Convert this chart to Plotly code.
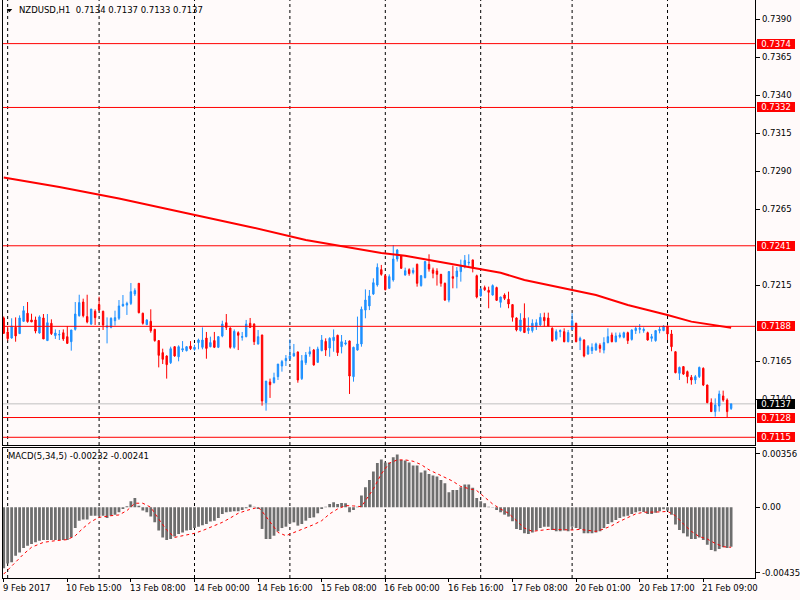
import plotly.graph_objects as go

# ---------------- data ----------------
bar_index = list(range(184))

opens = [0.71935, 0.71843, 0.71803, 0.71874, 0.71832, 0.71913, 0.71966, 0.71922, 0.71922, 0.71836,
         0.71935, 0.71786, 0.71900, 0.71819, 0.71823, 0.71838, 0.71812, 0.71779, 0.71860, 0.71950,
         0.72040, 0.71944, 0.71895, 0.71979, 0.72023, 0.71979, 0.71874, 0.71874, 0.71917, 0.71933,
         0.72014, 0.72020, 0.72031, 0.72093, 0.72163, 0.71966, 0.71891, 0.71913, 0.71860, 0.71786,
         0.71707, 0.71685, 0.71641, 0.71746, 0.71680, 0.71724, 0.71720, 0.71750, 0.71729, 0.71773,
         0.71742, 0.71803, 0.71746, 0.71786, 0.71742, 0.71816, 0.71904, 0.71869, 0.71742, 0.71838,
         0.71808, 0.71812, 0.71900, 0.71895, 0.71764, 0.71823, 0.71378, 0.71514, 0.71509, 0.71549,
         0.71619, 0.71654, 0.71667, 0.71685, 0.71711, 0.71536, 0.71641, 0.71698, 0.71724, 0.71643,
         0.71720, 0.71781, 0.71737, 0.71786, 0.71821, 0.71746, 0.71764, 0.71784, 0.71549, 0.71724,
         0.71764, 0.71987, 0.72014, 0.72093, 0.72152, 0.72253, 0.72213, 0.72130, 0.72185, 0.72323,
         0.72345, 0.72218, 0.72253, 0.72235, 0.72288, 0.72148, 0.72200, 0.72288, 0.72251, 0.72244,
         0.72222, 0.72163, 0.72053, 0.72207, 0.72207, 0.72240, 0.72273, 0.72297, 0.72317, 0.72213,
         0.72080, 0.72135, 0.72117, 0.72086, 0.72135, 0.72038, 0.72086, 0.72058, 0.72023, 0.71935,
         0.71852, 0.71933, 0.71852, 0.71852, 0.71878, 0.71889, 0.71939, 0.71935, 0.71867, 0.71795,
         0.71845, 0.71845, 0.71779, 0.71860, 0.71900, 0.71786, 0.71790, 0.71698, 0.71720, 0.71724,
         0.71755, 0.71724, 0.71773, 0.71823, 0.71779, 0.71812, 0.71808, 0.71838, 0.71794, 0.71852,
         0.71860, 0.71852, 0.71838, 0.71801, 0.71786, 0.71852, 0.71852, 0.71882, 0.71830, 0.71713,
         0.71571, 0.71615, 0.71582, 0.71545, 0.71527, 0.71549, 0.71604, 0.71494, 0.71378, 0.71319,
         0.71356, 0.71422, 0.71395, 0.71340]

highs = [0.71945, 0.71878, 0.71933, 0.71939, 0.71952, 0.72014, 0.72040, 0.71963, 0.71944, 0.71952,
         0.71961, 0.71961, 0.71926, 0.71860, 0.71856, 0.71860, 0.71882, 0.71856, 0.72040, 0.72088,
         0.72062, 0.72088, 0.71994, 0.71992, 0.72075, 0.71983, 0.71939, 0.71939, 0.71983, 0.72053,
         0.72086, 0.72042, 0.72165, 0.72130, 0.72165, 0.71970, 0.71926, 0.71992, 0.71864, 0.71790,
         0.71733, 0.71689, 0.71746, 0.71750, 0.71755, 0.71783, 0.71750, 0.71783, 0.71759, 0.71799,
         0.71873, 0.71843, 0.71812, 0.71843, 0.71816, 0.71917, 0.71961, 0.71873, 0.71860, 0.71847,
         0.71843, 0.71922, 0.71935, 0.71900, 0.71856, 0.71825, 0.71520, 0.71536, 0.71575, 0.71632,
         0.71659, 0.71691, 0.71794, 0.71764, 0.71715, 0.71691, 0.71711, 0.71746, 0.71731, 0.71746,
         0.71823, 0.71801, 0.71808, 0.71860, 0.71825, 0.71823, 0.71790, 0.71786, 0.71746, 0.71944,
         0.72010, 0.72123, 0.72119, 0.72196, 0.72294, 0.72284, 0.72222, 0.72222, 0.72415, 0.72389,
         0.72349, 0.72266, 0.72262, 0.72266, 0.72293, 0.72218, 0.72310, 0.72354, 0.72266, 0.72262,
         0.72225, 0.72168, 0.72244, 0.72279, 0.72270, 0.72319, 0.72349, 0.72354, 0.72319, 0.72220,
         0.72130, 0.72148, 0.72141, 0.72156, 0.72141, 0.72075, 0.72097, 0.72108, 0.72027, 0.71939,
         0.71966, 0.72031, 0.71939, 0.71926, 0.71926, 0.71966, 0.71970, 0.71970, 0.71874, 0.71860,
         0.71860, 0.71867, 0.71856, 0.71966, 0.71904, 0.71812, 0.71795, 0.71757, 0.71768, 0.71773,
         0.71768, 0.71808, 0.71867, 0.71839, 0.71839, 0.71839, 0.71845, 0.71845, 0.71860, 0.71878,
         0.71895, 0.71873, 0.71845, 0.71830, 0.71856, 0.71878, 0.71886, 0.71886, 0.71856, 0.71716,
         0.71615, 0.71619, 0.71589, 0.71560, 0.71560, 0.71615, 0.71610, 0.71496, 0.71406, 0.71406,
         0.71457, 0.71457, 0.71406, 0.71370]

lows = [0.71832, 0.71786, 0.71799, 0.71779, 0.71830, 0.71911, 0.71904, 0.71909, 0.71834, 0.71832,
        0.71797, 0.71786, 0.71823, 0.71797, 0.71790, 0.71784, 0.71764, 0.71720, 0.71852, 0.71944,
        0.71939, 0.71900, 0.71889, 0.71889, 0.71983, 0.71856, 0.71768, 0.71867, 0.71885, 0.71922,
        0.72010, 0.71955, 0.72020, 0.72080, 0.71965, 0.71891, 0.71889, 0.71838, 0.71779, 0.71610,
        0.71632, 0.71536, 0.71632, 0.71680, 0.71650, 0.71711, 0.71715, 0.71724, 0.71720, 0.71729,
        0.71729, 0.71667, 0.71742, 0.71737, 0.71737, 0.71808, 0.71856, 0.71733, 0.71733, 0.71724,
        0.71786, 0.71808, 0.71873, 0.71757, 0.71760, 0.71358, 0.71325, 0.71409, 0.71505, 0.71527,
        0.71582, 0.71619, 0.71663, 0.71680, 0.71509, 0.71527, 0.71626, 0.71680, 0.71621, 0.71641,
        0.71716, 0.71685, 0.71680, 0.71713, 0.71685, 0.71702, 0.71755, 0.71435, 0.71516, 0.71720,
        0.71746, 0.71933, 0.71987, 0.72086, 0.72141, 0.72213, 0.72117, 0.72126, 0.72174, 0.72306,
        0.72257, 0.72213, 0.72213, 0.72222, 0.72141, 0.72141, 0.72196, 0.72240, 0.72196, 0.72148,
        0.72141, 0.72047, 0.72038, 0.72130, 0.72130, 0.72174, 0.72262, 0.72279, 0.72235, 0.72064,
        0.72075, 0.72113, 0.71999, 0.72082, 0.72047, 0.72003, 0.72053, 0.71999, 0.71911, 0.71847,
        0.71845, 0.71839, 0.71830, 0.71839, 0.71856, 0.71882, 0.71878, 0.71878, 0.71779, 0.71786,
        0.71808, 0.71775, 0.71775, 0.71856, 0.71775, 0.71724, 0.71676, 0.71693, 0.71698, 0.71720,
        0.71707, 0.71702, 0.71768, 0.71775, 0.71775, 0.71801, 0.71801, 0.71764, 0.71786, 0.71830,
        0.71834, 0.71838, 0.71786, 0.71779, 0.71779, 0.71834, 0.71848, 0.71790, 0.71716, 0.71571,
        0.71527, 0.71560, 0.71505, 0.71496, 0.71501, 0.71540, 0.71487, 0.71374, 0.71317, 0.71286,
        0.71319, 0.71384, 0.71281, 0.71330]

closes = [0.71834, 0.71799, 0.71882, 0.71817, 0.71935, 0.71983, 0.71911, 0.71909, 0.71849, 0.71942,
          0.71797, 0.71904, 0.71832, 0.71836, 0.71826, 0.71797, 0.71768, 0.71856, 0.71961, 0.72036,
          0.71950, 0.71909, 0.71994, 0.71937, 0.71988, 0.71889, 0.71882, 0.71933, 0.71937, 0.72014,
          0.72025, 0.72031, 0.72108, 0.72115, 0.71970, 0.71900, 0.71922, 0.71851, 0.71786, 0.71689,
          0.71663, 0.71628, 0.71733, 0.71685, 0.71746, 0.71733, 0.71746, 0.71733, 0.71742, 0.71790,
          0.71790, 0.71735, 0.71773, 0.71742, 0.71812, 0.71895, 0.71873, 0.71742, 0.71847, 0.71821,
          0.71812, 0.71895, 0.71873, 0.71779, 0.71812, 0.71389, 0.71520, 0.71496, 0.71542, 0.71632,
          0.71648, 0.71669, 0.71685, 0.71702, 0.71527, 0.71654, 0.71691, 0.71713, 0.71626, 0.71731,
          0.71790, 0.71724, 0.71801, 0.71808, 0.71707, 0.71779, 0.71771, 0.71553, 0.71742, 0.71764,
          0.71992, 0.72053, 0.72080, 0.72167, 0.72268, 0.72222, 0.72121, 0.72207, 0.72323, 0.72382,
          0.72262, 0.72246, 0.72227, 0.72248, 0.72163, 0.72213, 0.72306, 0.72257, 0.72229, 0.72222,
          0.72163, 0.72053, 0.72240, 0.72196, 0.72244, 0.72279, 0.72314, 0.72301, 0.72262, 0.72073,
          0.72126, 0.72121, 0.72104, 0.72148, 0.72051, 0.72073, 0.72064, 0.72027, 0.71939, 0.71856,
          0.71922, 0.71839, 0.71867, 0.71900, 0.71904, 0.71939, 0.71917, 0.71882, 0.71784, 0.71845,
          0.71852, 0.71779, 0.71839, 0.71917, 0.71779, 0.71801, 0.71685, 0.71746, 0.71742, 0.71764,
          0.71735, 0.71773, 0.71812, 0.71779, 0.71817, 0.71823, 0.71838, 0.71786, 0.71856, 0.71867,
          0.71867, 0.71860, 0.71790, 0.71812, 0.71852, 0.71860, 0.71882, 0.71830, 0.71746, 0.71575,
          0.71610, 0.71566, 0.71549, 0.71527, 0.71549, 0.71610, 0.71494, 0.71378, 0.71319, 0.71363,
          0.71435, 0.71395, 0.71319, 0.71370]

ma_index = [0, 14, 29, 49, 62, 76, 83, 89, 95, 101, 110, 118, 125, 131, 137, 143, 149, 157, 162, 167, 173, 178, 183]
ma_values = [0.72859, 0.72797, 0.72721, 0.72610, 0.72534, 0.72448, 0.72415, 0.72387, 0.72362, 0.72345,
             0.72301, 0.72266, 0.72232, 0.72185, 0.72152, 0.72119, 0.72086, 0.72020, 0.71988, 0.71955,
             0.71911, 0.71889, 0.71871]

# MACD(5,34,5) histogram, one value per bar (x 1e-5)
macd_e5 = [-406, -373, -366, -322, -300, -271, -255, -244, -233, -222,
           -218, -218, -218, -218, -218, -218, -218, -200, -138, -89,
           -82, -82, -56, -56, -56, -56, -71, -56, -49, -33,
           -11, 7, 40, 62, 11, -22, -33, -62, -100, -155,
           -200, -218, -211, -195, -178, -167, -155, -151, -138, -129,
           -120, -111, -95, -89, -71, -44, -33, -29, -27, -27,
           -18, -7, 18, 4, -11, -144, -211, -211, -189, -160,
           -138, -129, -107, -100, -122, -111, -89, -71, -67, -40,
           -11, 4, 22, 33, 22, 29, 27, -33, -18, 4,
           78, 133, 182, 238, 295, 317, 297, 297, 333, 351,
           315, 311, 297, 278, 278, 231, 244, 222, 211, 204,
           182, 160, 100, 115, 115, 133, 151, 151, 129, 62,
           40, 27, 4, -2, -18, -33, -49, -62, -93, -144,
           -151, -173, -178, -167, -155, -138, -129, -129, -151, -160,
           -160, -155, -160, -129, -138, -144, -173, -173, -173, -167,
           -160, -138, -111, -100, -84, -71, -62, -56, -44, -33,
           -27, -31, -44, -44, -36, -27, -13, -22, -49, -115,
           -151, -173, -195, -211, -211, -200, -218, -249, -284, -293,
           -278, -266, -271, -262]

# signal line, read at these bars (x 1e-5)
signal_index = [0, 2, 5, 7, 10, 13, 16, 18, 20, 22, 24, 27, 29, 31, 33, 35, 37, 39, 41, 43, 45, 48, 50,
                52, 55, 57, 59, 61, 63, 64, 65, 67, 69, 71, 73, 76, 78, 80, 82, 84, 86, 88, 90, 91,
                93, 95, 97, 99, 101, 103, 105, 107, 109, 111, 113, 115, 117, 119, 121, 123, 125, 127,
                129, 131, 133, 135, 137, 139, 141, 143, 145, 147, 149, 151, 153, 155, 157, 159, 161,
                163, 165, 167, 169, 171, 173, 175, 177, 179, 181, 183]
signal_e5 = [-444, -389, -311, -266, -233, -222, -215, -189, -138, -95, -67, -56, -51, -22, 27, 27, 0,
             -78, -151, -200, -189, -173, -155, -133, -100, -71, -40, -22, -4, 0, -27, -100, -167,
             -189, -169, -138, -115, -89, -44, -11, 11, 9, 4, 44, 122, 222, 293, 315, 315, 306, 284,
             249, 222, 200, 173, 138, 122, 111, 67, 22, -11, -40, -89, -138, -160, -155, -147, -147,
             -151, -151, -147, -155, -160, -144, -122, -93, -67, -44, -33, -33, -31, -27, -56, -111,
             -160, -195, -211, -240, -262, -266]

hline_levels = [0.7374, 0.7332, 0.7241, 0.7188, 0.7128, 0.7115]
bid_price = 0.7137
price_ticks = [0.7390, 0.7365, 0.7340, 0.7315, 0.7290, 0.7265, 0.7215, 0.7165, 0.7140]
macd_ticks = [0.00356, 0.0, -0.00435]
macd_tick_text = ["0.00356", "0.00", "-0.00435"]
grid_index = [1, 24, 48, 72, 96, 120, 143, 167]
time_index = [0, 16, 32, 48, 64, 80, 96, 112, 128, 144, 160, 176]
time_labels = ["9 Feb 2017", "10 Feb 15:00", "13 Feb 08:00", "14 Feb 00:00", "14 Feb 16:00",
               "15 Feb 08:00", "16 Feb 00:00", "16 Feb 16:00", "17 Feb 08:00", "20 Feb 01:00",
               "20 Feb 17:00", "21 Feb 09:00"]
title_text = "NZDUSD,H1  0.7134 0.7137 0.7133 0.7137"
macd_title = "MACD(5,34,5) -0.00232 -0.00241"

# ---------------- styling ----------------
W, H = 800, 600
BG = "#FFFAFA"
FONT = "DejaVu Sans"
FS = 8.5
X_LEFT, X_RIGHT = 3, 760          # plot area in pixels
MAIN_TOP, MAIN_BOT = 0, 445
MACD_TOP, MACD_BOT = 448, 578
xr = [-0.18, 189.07]

macd = [v * 1e-5 for v in macd_e5]
signal = [v * 1e-5 for v in signal_e5]

fig = go.Figure()
fig.add_trace(go.Candlestick(
    x=bar_index, open=opens, high=highs, low=lows, close=closes,
    xaxis="x", yaxis="y", whiskerwidth=0, hoverinfo="skip",
    increasing=dict(line=dict(color="#1E90FF", width=1), fillcolor="#1E90FF"),
    decreasing=dict(line=dict(color="#FF0000", width=1), fillcolor="#FF0000"),
))
fig.add_trace(go.Scatter(x=ma_index, y=ma_values, mode="lines", xaxis="x", yaxis="y",
                         line=dict(color="#FF0000", width=2), hoverinfo="skip"))
fig.add_trace(go.Bar(x=bar_index, y=macd, xaxis="x2", yaxis="y2", width=0.7,
                     marker=dict(color="#6E6E6E", line=dict(width=0)), hoverinfo="skip"))
fig.add_trace(go.Scatter(x=signal_index, y=signal, mode="lines", xaxis="x2", yaxis="y2",
                         line=dict(color="#FF0000", width=1, dash="dot"), hoverinfo="skip"))

shapes = []
for p in hline_levels:
    shapes.append(dict(type="line", xref="x domain", x0=0, x1=1, yref="y", y0=p, y1=p,
                       line=dict(color="#FF0000", width=1), layer="above"))
shapes.append(dict(type="line", xref="x domain", x0=0, x1=1, yref="y", y0=bid_price, y1=bid_price,
                   line=dict(color="#C0C0C0", width=1), layer="below"))
for k in grid_index:
    for yr in ("y domain", "y2 domain"):
        xa = "x" if yr == "y domain" else "x2"
        shapes.append(dict(type="line", xref=xa, x0=k, x1=k, yref=yr, y0=0, y1=1,
                           line=dict(color="#000000", width=1, dash="3px,3px"), layer="below"))
# small drop-down triangle before the title
tri = [(6.7, 9.0), (12.3, 9.0), (9.5, 12.3)]
path = "M " + " L ".join(f"{x / W},{1 - y / H}" for x, y in tri) + " Z"
shapes.append(dict(type="path", xref="paper", yref="paper", path=path,
                   fillcolor="#000000", line=dict(color="#000000", width=0)))

ann = []
ann.append(dict(text=title_text, xref="paper", yref="paper", x=17 / W, y=1 - 10.3 / H,
                xanchor="left", yanchor="middle", showarrow=False,
                font=dict(family=FONT, size=FS, color="#000000")))
ann.append(dict(text=macd_title, xref="paper", yref="paper", x=6 / W, y=1 - 456.3 / H,
                xanchor="left", yanchor="middle", showarrow=False,
                font=dict(family=FONT, size=FS, color="#000000")))
for k, t in zip(time_index, time_labels):
    ann.append(dict(text=t, xref="x2", yref="paper", x=k, y=1 - 587.7 / H, xshift=-1,
                    xanchor="left", yanchor="middle", showarrow=False, borderpad=0, borderwidth=0,
                    font=dict(family=FONT, size=FS, color="#000000")))
for p in hline_levels + [bid_price]:
    ann.append(dict(text=f"{p:.4f}", xref="paper", yref="y", x=762 / W, y=p,
                    xanchor="left", yanchor="middle", showarrow=False,
                    width=36, height=8, borderpad=0, borderwidth=1,
                    bgcolor="#000000" if p == bid_price else "#FF0000",
                    bordercolor="#000000" if p == bid_price else "#FF0000",
                    font=dict(family=FONT, size=FS, color="#FFFFFF")))

axis_font = dict(family=FONT, size=FS, color="#000000")
fig.update_layout(
    width=W, height=H, margin=dict(l=0, r=0, t=0, b=0),
    paper_bgcolor=BG, plot_bgcolor=BG, showlegend=False,
    boxgap=0.5, bargap=0.3,
    xaxis=dict(domain=[X_LEFT / W, X_RIGHT / W], range=xr, anchor="y",
               showline=True, mirror=False, linecolor="#000000", linewidth=1,
               showgrid=False, zeroline=False, showticklabels=False, ticks="",
               rangeslider=dict(visible=False), fixedrange=True),
    yaxis=dict(domain=[1 - MAIN_BOT / H, 1 - MAIN_TOP / H], range=[0.710993, 0.740270],
               anchor="x", side="right", showline=True, mirror=True, linecolor="#000000",
               linewidth=1, showgrid=False, zeroline=False, ticks="outside", ticklen=4,
               tickcolor="#000000", tickvals=price_ticks,
               ticktext=[f"{v:.4f}" for v in price_ticks], tickfont=axis_font),
    xaxis2=dict(domain=[X_LEFT / W, X_RIGHT / W], range=xr, anchor="y2",
                showline=True, mirror=True, linecolor="#000000", linewidth=1,
                showgrid=False, zeroline=False, showticklabels=False, ticks="outside",
                ticklen=3, tickcolor="#000000", tickvals=time_index),
    yaxis2=dict(domain=[1 - MACD_BOT / H, 1 - MACD_TOP / H], range=[-0.00470, 0.00394],
                anchor="x2", side="right", showline=True, mirror=True, linecolor="#000000",
                linewidth=1, showgrid=False, zeroline=False, ticks="outside", ticklen=4,
                tickcolor="#000000", tickvals=macd_ticks, ticktext=macd_tick_text,
                tickfont=axis_font),
    shapes=shapes, annotations=ann,
)

fig.write_html("out.html", config={"displayModeBar": False, "staticPlot": True},
               post_script="document.body.style.margin='0px';document.body.style.background='" + BG + "';")
